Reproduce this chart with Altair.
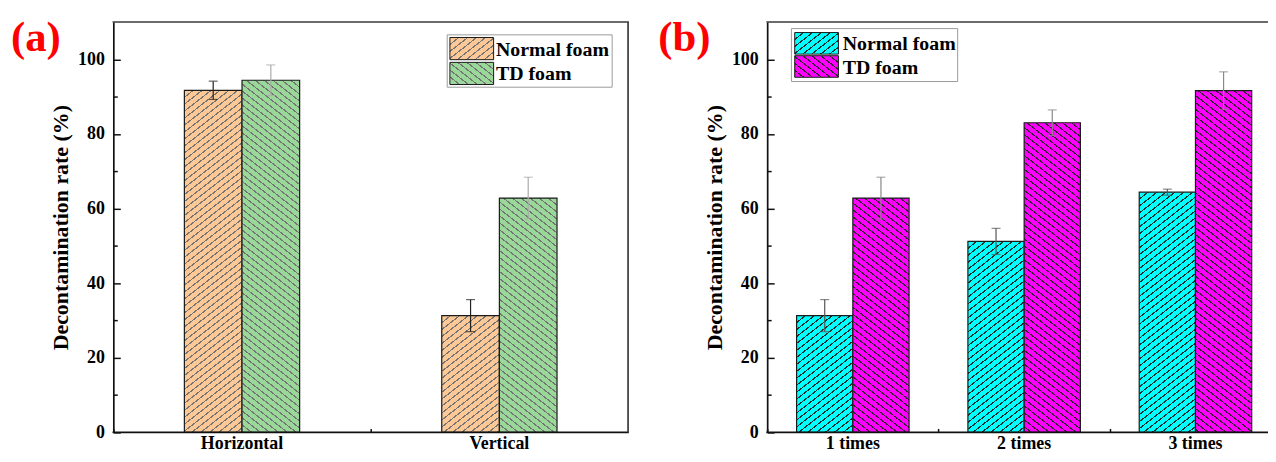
import altair as alt
import pandas as pd

# ---------------- data ----------------
series = ["Normal foam", "TD foam"]

cats_a = ["Horizontal", "Vertical"]
normal_a = [91.7, 31.3]
normal_a_err = [2.45, 4.3]
td_a = [94.4, 62.8]
td_a_err = [4.1, 5.6]

cats_b = ["1 times", "2 times", "3 times"]
normal_b = [31.3, 51.2, 64.4]
normal_b_err = [4.3, 3.5, 0.8]
td_b = [62.8, 83.0, 91.6]
td_b_err = [5.6, 3.45, 5.05]

y_major = [0, 20, 40, 60, 80, 100]
y_minor = [10, 30, 50, 70, 90]
y_max = 110
y_title = "Decontamination rate (%)"

# ---------------- style ----------------
FONT = "Liberation Serif"
H = 413.0
W_A = 518.0
W_B = 517.2          # panel (b) runs past the right edge of the window (clipped)
SVG_W = 1268
SVG_H = 442
SLOPE = 0.78         # hatch slope
PERIOD = 7.0         # vertical spacing of hatch lines


def hatch(w, h, bg, line, forward, period=PERIOD, lw=1.45, m=SLOPE):
    K = m * w + h
    al, be = m * w / K, h / K
    n2 = al * al + be * be
    dx, dy = al / n2, be / n2
    if forward:
        x1, y1, x2, y2 = 0, 0, dx, dy
    else:
        x1, y1, x2, y2 = 1, 0, 1 - dx, dy
    stops = [{"offset": 0, "color": bg}]
    k = 1
    while True:
        c = k * period
        if c - lw / 2 >= K:
            break
        t0 = round(max(0.0, (c - lw / 2) / K), 5)
        t1 = round(min(1.0, (c + lw / 2) / K), 5)
        stops += [
            {"offset": t0, "color": bg},
            {"offset": t0, "color": line},
            {"offset": t1, "color": line},
            {"offset": t1, "color": bg},
        ]
        k += 1
    stops.append({"offset": 1, "color": bg})
    return {"gradient": "linear", "x1": round(x1, 5), "y1": y1,
            "x2": round(x2, 5), "y2": round(y2, 5), "stops": stops}


def panel(cats, vals_n, err_n, vals_t, err_t, W, bar_w, pad_slots, fills,
          line_col, err_cols, leg, label, label_x):
    rows = []
    for s, vals, errs in ((series[0], vals_n, err_n), (series[1], vals_t, err_t)):
        for c, v, e in zip(cats, vals, errs):
            rows.append({"cat": c, "foam": s, "rate": v, "lo": v - e, "hi": v + e})
    df = pd.DataFrame(rows)

    band = W / len(cats)
    n_slots = 2 + 2 * pad_slots
    outer = (band / bar_w - n_slots) / 2
    off_domain = [" " * (i + 1) for i in range(pad_slots)] + series + \
                 ["  " * (i + 1) + "." for i in range(pad_slots)]

    xs = alt.Scale(domain=cats, paddingInner=0, paddingOuter=0)
    os_ = alt.Scale(domain=off_domain, paddingInner=0, paddingOuter=outer)
    ys = alt.Scale(domain=[0, y_max], nice=False, zero=True)
    cs = alt.Scale(domain=series, range=err_cols)

    ax_x = alt.Axis(orient="bottom", ticks=False, tickSize=0, labelPadding=2,
                    labelAngle=0, title=None, domain=False, grid=False)
    ax_y = alt.Axis(orient="left", values=y_major, ticks=False, tickSize=0,
                    labelPadding=9, title=y_title, titlePadding=5, domain=True,
                    grid=False)
    ax_xt = alt.Axis(orient="top", offset=-H, tickBand="extent", values=cats[:-1],
                     labels=False, domain=False, ticks=True, tickSize=4,
                     title=None, grid=False)
    ax_yt = alt.Axis(orient="right", offset=-W, values=y_major, labels=False,
                     domain=False, ticks=True, tickSize=7, title=None, grid=False)
    ax_ym = alt.Axis(orient="right", offset=-W, values=y_minor, labels=False,
                     domain=False, ticks=True, tickSize=4, title=None, grid=False)

    layers = []
    first = True
    for r in rows:
        si = series.index(r["foam"])
        h = r["rate"] * H / y_max
        grad = hatch(bar_w, h, fills[si], line_col, forward=(si == 0))
        layers.append(
            alt.Chart(df)
            .transform_filter((alt.datum.cat == r["cat"]) & (alt.datum.foam == r["foam"]))
            .mark_bar(fill=grad, stroke="#1a1a1a", strokeWidth=1.2)
            .encode(
                x=alt.X("cat:N", scale=xs, axis=ax_x if first else None),
                xOffset=alt.XOffset("foam:N", scale=os_),
                y=alt.Y("rate:Q", scale=ys, axis=ax_y if first else None),
            )
        )
        first = False

    layers.append(
        alt.Chart(df).mark_rule(strokeWidth=1.2).encode(
            x=alt.X("cat:N", scale=xs, axis=ax_xt),
            xOffset=alt.XOffset("foam:N", scale=os_),
            y=alt.Y("lo:Q", scale=ys, axis=ax_yt),
            y2="hi:Q",
            color=alt.Color("foam:N", scale=cs, legend=None),
        )
    )
    for fld, ax in (("hi", ax_ym), ("lo", None)):
        layers.append(
            alt.Chart(df).mark_tick(orient="horizontal", size=9, thickness=1.2).encode(
                x=alt.X("cat:N", scale=xs, axis=None),
                xOffset=alt.XOffset("foam:N", scale=os_),
                y=alt.Y(f"{fld}:Q", scale=ys, axis=ax),
                color=alt.Color("foam:N", scale=cs, legend=None),
            )
        )

    # frame (top / bottom / right)
    one = pd.DataFrame({"k": [0]})
    layers.append(alt.Chart(one).mark_rule(color="#3a3a3a", strokeWidth=1.7)
                  .encode(x=alt.value(-0.8), x2=alt.value(W + 0.8), y=alt.value(0)))
    layers.append(alt.Chart(one).mark_rule(color="#111111", strokeWidth=1.7)
                  .encode(x=alt.value(-0.8), x2=alt.value(W + 0.8), y=alt.value(H)))
    layers.append(alt.Chart(one).mark_rule(color="#3a3a3a", strokeWidth=1.7)
                  .encode(x=alt.value(W), y=alt.value(0), y2=alt.value(H)))

    # legend (drawn inside the plot)
    bx0, bx1, by0, by1, sx0, sx1, sy, sh, sgap, tx, tys = leg
    layers.append(
        alt.Chart(one).mark_rect(fill="white", stroke="#9a9a9a", strokeWidth=1)
        .encode(x=alt.value(bx0), x2=alt.value(bx1), y=alt.value(by0), y2=alt.value(by1))
    )
    for i, s in enumerate(series):
        y0 = sy + i * (sh + sgap)
        g = hatch(sx1 - sx0, sh, fills[i], line_col, forward=(i == 0))
        layers.append(
            alt.Chart(pd.DataFrame({"foam": [s]})).mark_rect(fill=g, stroke="#1a1a1a", strokeWidth=1)
            .encode(x=alt.value(sx0), x2=alt.value(sx1), y=alt.value(y0), y2=alt.value(y0 + sh))
        )
        layers.append(
            alt.Chart(pd.DataFrame({"foam": [s]})).mark_text(
                font=FONT, fontSize=20, fontWeight="bold", color="black",
                align="left", baseline="alphabetic")
            .encode(text="foam:N", x=alt.value(tx), y=alt.value(tys[i]))
        )

    layers.append(
        alt.Chart(pd.DataFrame({"lab": [label]})).mark_text(
            font=FONT, fontSize=43, fontWeight="bold", color="#ff0000",
            align="left", baseline="alphabetic")
        .encode(text="lab:N", x=alt.value(label_x), y=alt.value(29.1))
    )

    return (
        alt.layer(*layers)
        .resolve_axis(x="independent", y="independent")
        .properties(width=W, height=H)
    )


pa = panel(cats_a, normal_a, normal_a_err, td_a, td_a_err, W_A, 58.0, 1,
           ["#FCC896", "#9AD89A"], "#747474", ["#222222", "#aaaaaa"],
           (336, 502, 12.9, 65.6, 338.7, 382.7, 15.6, 22.3, 2.7, 385, [33.9, 57.9]),
           "(a)", -103)
pb = panel(cats_b, normal_b, normal_b_err, td_b, td_b_err, W_B, 56.6, 0,
           ["#00FFFF", "#FF00FF"], "#2a2a2a", ["#555555", "#888888"],
           (24.4, 191.7, 6.6, 59.9, 27.7, 71.7, 10.6, 21.7, 1.6, 76, [28.3, 52.3]),
           "(b)", -109.7)

# padding places the origin of panel (a)'s plot area; svg size is fixed
PAD_L, PAD_T = 106, 11.4
chart = (
    alt.hconcat(pa, pb, spacing=26)
    .resolve_scale(color="independent", xOffset="independent")
    .properties(
        autosize=alt.AutoSizeParams(type="none"),
        padding={"left": PAD_L, "top": PAD_T,
                 "right": SVG_W - PAD_L, "bottom": SVG_H - PAD_T},
    )
    .configure_view(stroke="transparent")
    .configure_axis(
        labelFont=FONT, labelFontSize=18, labelFontWeight="bold", labelColor="black",
        titleFont=FONT, titleFontSize=22, titleFontWeight="bold", titleColor="black",
        domainColor="#111111", domainWidth=1.7, tickColor="#111111", tickWidth=1.5,
    )
)

chart.save("out.html", embed_options={"renderer": "svg", "actions": False})
